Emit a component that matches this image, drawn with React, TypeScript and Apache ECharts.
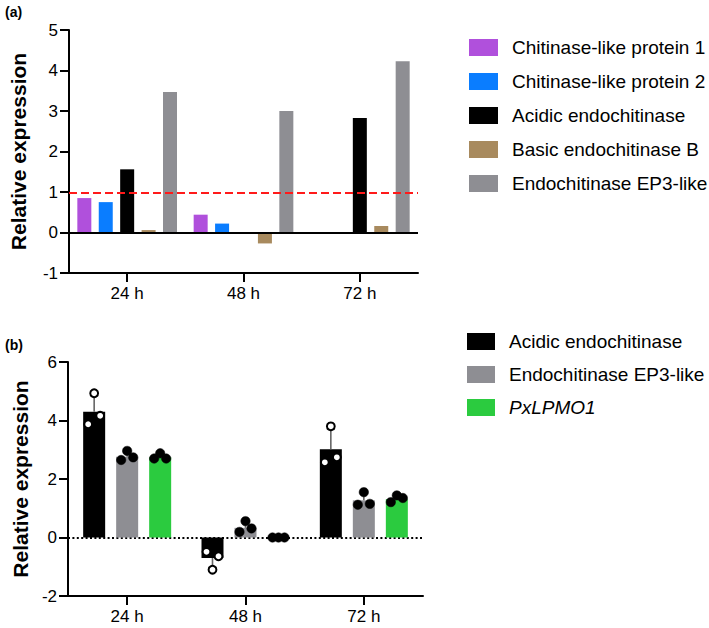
import React, { useEffect, useRef } from "react";
import * as echarts from "echarts";

// ---------- data ----------
const categories = ["24 h", "48 h", "72 h"];

// panel (a)
const namesA = [
  "Chitinase-like protein 1",
  "Chitinase-like protein 2",
  "Acidic endochitinase",
  "Basic endochitinase B",
  "Endochitinase EP3-like",
];
const colorsA = ["#b050dc", "#0a7dff", "#000000", "#a88a5e", "#8e8e93"];
const chitinase1 = [0.85, 0.44, null];
const chitinase2 = [0.75, 0.22, null];
const acidicA = [1.56, null, 2.83];
const basicB = [0.06, -0.27, 0.16];
const ep3A = [3.47, 3.0, 4.23];
const thresholdA = 0.98;

// panel (b)
const namesB = ["Acidic endochitinase", "Endochitinase EP3-like", "PxLPMO1"];
const colorsB = ["#000000", "#8e8e93", "#2bcb3f"];
const acidicB = [4.3, -0.7, 3.02];
const ep3B = [2.76, 0.33, 1.27];
const lpmoB = [2.74, 0.0, 1.31];
const acidicBErr = [0.55, 0.32, 0.68];
const ep3BErr = [0.16, 0.22, 0.25];
const lpmoBErr = [0.1, 0.01, 0.12];
const acidicBPoints = [
  [3.87, 4.93, 4.16],
  [-0.49, -1.1, -0.64],
  [2.57, 3.8, 2.74],
];
const ep3BPoints = [
  [2.65, 2.96, 2.74],
  [0.19, 0.56, 0.31],
  [1.12, 1.55, 1.15],
];
const lpmoBPoints = [
  [2.7, 2.88, 2.7],
  [0, 0, 0],
  [1.21, 1.44, 1.35],
];

const FONT = "Liberation Sans, Arial, sans-serif";

export default function App() {
  const ref = useRef<HTMLDivElement>(null);

  useEffect(() => {
    if (!ref.current) return;
    const chart = echarts.init(ref.current, null, { renderer: "svg" });

    const valuesA = [chitinase1, chitinase2, acidicA, basicB, ep3A];
    const seriesA: any[] = valuesA.map((vals, i) => ({
      type: "bar",
      name: namesA[i],
      xAxisIndex: 0,
      yAxisIndex: 0,
      data: vals.map((v) => (v === null ? "-" : v)),
      barWidth: 14,
      barGap: "53%",
      itemStyle: { color: colorsA[i] },
      ...(i === 0
        ? {
            markLine: {
              silent: true,
              symbol: "none",
              label: { show: false },
              data: [
                { yAxis: 0, lineStyle: { color: "#000", width: 2, type: "solid" } },
                {
                  yAxis: thresholdA,
                  lineStyle: { color: "#ff1a1a", width: 2, type: [8, 4] },
                },
              ],
            },
          }
        : {}),
    }));

    const valuesB = [acidicB, ep3B, lpmoB];
    const errB = [acidicBErr, ep3BErr, lpmoBErr];
    const ptsB = [acidicBPoints, ep3BPoints, lpmoBPoints];
    const BAR_W = 22;
    const STEP = 33;

    const seriesB: any[] = valuesB.map((vals, i) => ({
      type: "bar",
      name: namesB[i],
      xAxisIndex: 1,
      yAxisIndex: 1,
      data: vals,
      barWidth: BAR_W,
      barGap: "50%",
      itemStyle: { color: colorsB[i] },
      ...(i === 0
        ? {
            markLine: {
              silent: true,
              symbol: "none",
              label: { show: false },
              z: 1,
              data: [
                { yAxis: 0, lineStyle: { color: "#000", width: 2, type: [2, 2.4] } },
              ],
            },
          }
        : {}),
    }));

    const customB: any[] = valuesB.map((vals, i) => ({
      type: "custom",
      name: namesB[i] + " points",
      xAxisIndex: 1,
      yAxisIndex: 1,
      z: 5,
      silent: true,
      data: vals.map((m, c) => [c, m, errB[i][c], ...ptsB[i][c]]),
      renderItem: (params: any, api: any) => {
        const c = api.value(0);
        const mean = api.value(1);
        const err = api.value(2);
        const pts = [api.value(3), api.value(4), api.value(5)];
        const base = api.coord([c, mean]);
        const cx = base[0] + (i - 1) * STEP;
        const dir = mean < 0 ? -1 : 1;
        const yEnd = api.coord([c, mean + dir * err])[1];
        const open = i === 0;
        const children: any[] = [
          {
            type: "line",
            shape: { x1: cx, y1: base[1], x2: cx, y2: yEnd },
            style: { stroke: "#666", lineWidth: 1.6 },
          },
          {
            type: "line",
            shape: { x1: cx - 4, y1: yEnd, x2: cx + 4, y2: yEnd },
            style: { stroke: "#666", lineWidth: 1.6 },
          },
        ];
        const offs = [-6, 0, 6];
        pts.forEach((p: number, k: number) => {
          const y = api.coord([c, p])[1];
          children.push({
            type: "circle",
            shape: { cx: cx + offs[k], cy: y, r: open ? 3.9 : 4.7 },
            style: open
              ? { fill: "#fff", stroke: "#000", lineWidth: 2 }
              : { fill: "#000", stroke: "#000", lineWidth: 0.5 },
          });
        });
        return { type: "group", children };
      },
    }));

    const axisLineStyle = { color: "#000", width: 2 };
    const xAxisCommon = {
      type: "category",
      data: categories,
      axisLine: { show: true, onZero: false, lineStyle: axisLineStyle },
      axisTick: { show: true, alignWithLabel: true, length: 9, lineStyle: axisLineStyle },
      axisLabel: { color: "#000", fontSize: 17, fontFamily: FONT, margin: 12 },
      splitLine: { show: false },
    };
    const yAxisCommon = {
      type: "value",
      nameLocation: "middle",
      nameRotate: 90,
      name: "Relative expression",
      nameTextStyle: { color: "#000", fontSize: 21, fontWeight: "bold", fontFamily: FONT },
      axisLine: { show: true, lineStyle: axisLineStyle },
      axisTick: { show: true, length: 9, lineStyle: axisLineStyle },
      axisLabel: { color: "#000", fontSize: 17, fontFamily: FONT, margin: 11 },
      splitLine: { show: false },
    };

    const legendText = { color: "#000", fontSize: 19, fontFamily: FONT, padding: [0, 0, 0, 9] };

    chart.setOption({
      animation: false,
      backgroundColor: "#fff",
      title: [
        {
          text: "(a)",
          left: 5,
          top: 5,
          padding: 0,
          textStyle: { fontSize: 14, fontWeight: "bold", color: "#000", fontFamily: FONT },
        },
        {
          text: "(b)",
          left: 5,
          top: 338,
          padding: 0,
          textStyle: { fontSize: 14, fontWeight: "bold", color: "#000", fontFamily: FONT },
        },
      ],
      legend: [
        {
          orient: "vertical",
          left: 469,
          top: 38,
          padding: 0,
          itemWidth: 29,
          itemHeight: 17,
          itemGap: 15,
          icon: "rect",
          selectedMode: false,
          data: namesA.map((n, i) => ({ name: n, itemStyle: { color: colorsA[i] } })),
          textStyle: legendText,
        },
        {
          orient: "vertical",
          left: 467,
          top: 332,
          padding: 0,
          itemWidth: 28,
          itemHeight: 17,
          itemGap: 14,
          icon: "rect",
          selectedMode: false,
          data: namesB.map((n, i) => ({
            name: n,
            itemStyle: { color: colorsB[i] },
            textStyle: i === 2 ? { fontStyle: "italic" } : {},
          })),
          textStyle: legendText,
        },
      ],
      grid: [
        { left: 61, top: 30, width: 357, height: 243 },
        { left: 68, top: 362, width: 355, height: 234 },
      ],
      xAxis: [
        { ...xAxisCommon, gridIndex: 0 },
        { ...xAxisCommon, gridIndex: 1 },
      ],
      yAxis: [
        { ...yAxisCommon, gridIndex: 0, min: -1, max: 5, interval: 1, nameGap: 40 },
        { ...yAxisCommon, gridIndex: 1, min: -2, max: 6, interval: 2, nameGap: 35 },
      ],
      series: [...seriesA, ...seriesB, ...customB],
    });

    return () => chart.dispose();
  }, []);

  return (
    <div
      ref={ref}
      style={{ position: "fixed", left: 0, top: 0, width: 709, height: 628, background: "#fff" }}
    />
  );
}
